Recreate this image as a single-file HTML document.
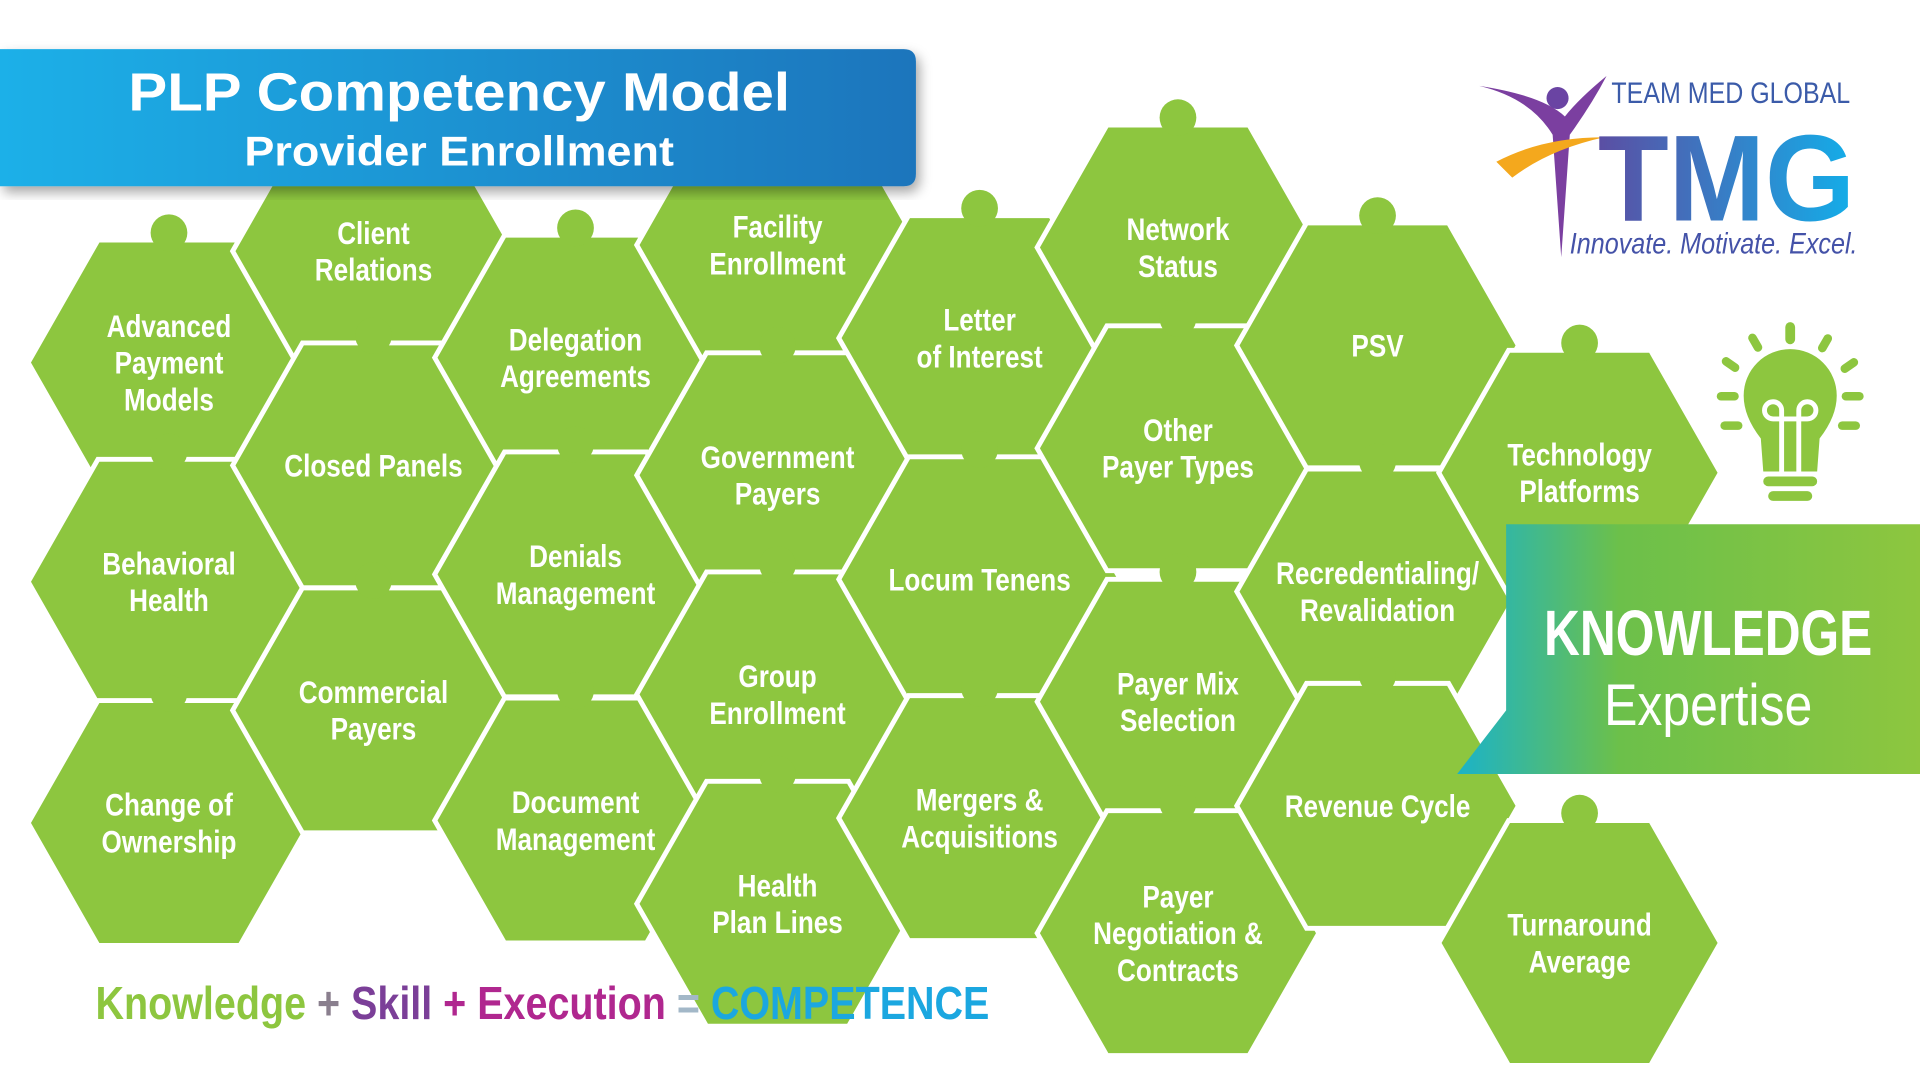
<!DOCTYPE html>
<html><head><meta charset="utf-8"><style>
html,body{margin:0;padding:0;background:#fff;width:1920px;height:1079px;overflow:hidden}
svg{display:block}
.l{font-family:"Liberation Sans",sans-serif;font-weight:bold;fill:#fff;font-size:26px;text-anchor:middle}
</style></head><body>
<svg width="1920" height="1079" viewBox="0 0 1568 881" xmlns="http://www.w3.org/2000/svg">
<defs>
<linearGradient id="bl" x1="0" x2="1"><stop offset="0" stop-color="#1ab0e8"/><stop offset="1" stop-color="#1b75bc"/></linearGradient>
<linearGradient id="kg" x1="0" x2="1"><stop offset="0" stop-color="#1bb3c8"/><stop offset="0.35" stop-color="#6cc04a"/><stop offset="1" stop-color="#8dc63f"/></linearGradient>
<linearGradient id="tm" x1="0" x2="1"><stop offset="0" stop-color="#5b4ea3"/><stop offset="1" stop-color="#13aee9"/></linearGradient>
<filter id="sh"><feDropShadow dx="3" dy="5" stdDeviation="5" flood-opacity="0.35"/></filter>
</defs>
<g id="hexes" fill="#8dc63f" stroke="#fff" stroke-width="4"></g>
<g id="knobs" fill="#8dc63f"></g>
<path d="M1230 428 H1568 V632 H1190 L1230 580 Z" fill="url(#kg)"/>
<g font-family="Liberation Sans,sans-serif" fill="#fff" text-anchor="middle">
<text transform="translate(1395,535) scale(0.78,1)" font-weight="bold" font-size="52">KNOWLEDGE</text>
<text transform="translate(1395,592) scale(0.85,1)" font-size="48">Expertise</text>
</g>
<path d="M0 40 H738 Q748 40 748 50 V142 Q748 152 738 152 H0 Z" fill="url(#bl)" filter="url(#sh)"/>
<text transform="translate(375,90) scale(1.08,1)" font-family="Liberation Sans,sans-serif" font-weight="bold" font-size="44" fill="#fff" text-anchor="middle">PLP Competency Model</text>
<text transform="translate(375,135) scale(1.08,1)" font-family="Liberation Sans,sans-serif" font-weight="bold" font-size="34" fill="#fff" text-anchor="middle">Provider Enrollment</text>
<g font-family="Liberation Sans,sans-serif">
<path d="M1208 70 Q1250 80 1268 110 L1275 210 L1282 110 Q1300 85 1312 62 Q1290 80 1278 95 Q1260 78 1208 70Z" fill="#7b3fa0"/>
<circle cx="1272" cy="80" r="9" fill="#6a44a3"/>
<path d="M1222 132 Q1260 112 1310 112 Q1265 122 1235 145 Z" fill="#f4a81d"/>
<text x="1316" y="84" font-size="24" fill="#3b5ba9" textLength="195" lengthAdjust="spacingAndGlyphs">TEAM MED GLOBAL</text>
<text x="1305" y="180" font-size="100" font-weight="bold" fill="url(#tm)" textLength="210" lengthAdjust="spacingAndGlyphs">TMG</text>
<text x="1282" y="207" font-size="24" font-style="italic" fill="#4452a8" textLength="235" lengthAdjust="spacingAndGlyphs">Innovate. Motivate. Excel.</text>
</g>
<g fill="#8dc63f">
<path d="M1462 285 A38 38 0 0 1 1500 323 Q1500 340 1486 358 L1484 385 H1440 L1438 358 Q1424 340 1424 323 A38 38 0 0 1 1462 285Z"/>
<rect x="1440" y="389" width="44" height="8" rx="4"/><rect x="1444" y="401" width="36" height="8" rx="4"/>
<rect x="1458" y="263" width="8" height="18" rx="4"/>
<rect x="1402" y="320" width="18" height="7" rx="3.5"/><rect x="1504" y="320" width="18" height="7" rx="3.5"/>
<rect x="1405" y="344" width="18" height="7" rx="3.5"/><rect x="1501" y="344" width="18" height="7" rx="3.5"/>
<rect x="1430" y="272" width="7" height="16" rx="3.5" transform="rotate(-30 1433 280)"/><rect x="1487" y="272" width="7" height="16" rx="3.5" transform="rotate(30 1490 280)"/>
<rect x="1410" y="290" width="7" height="16" rx="3.5" transform="rotate(-55 1413 298)"/><rect x="1507" y="290" width="7" height="16" rx="3.5" transform="rotate(55 1510 298)"/>
</g>
<path d="M1455 385 V335 A7 7 0 1 0 1448 342 H1476 A7 7 0 1 0 1469 335 V385" fill="none" stroke="#fff" stroke-width="4"/>
<g id="labels" class="l"></g>
<text x="78" y="832" font-family="Liberation Sans,sans-serif" font-weight="bold" font-size="38" textLength="730" lengthAdjust="spacingAndGlyphs"><tspan fill="#8dc63f">Knowledge</tspan><tspan fill="#8a7f8e"> + </tspan><tspan fill="#7b3f98">Skill</tspan><tspan fill="#b0278f"> + Execution</tspan><tspan fill="#a3b8c8"> = </tspan><tspan fill="#1ba7e0">COMPETENCE</tspan></text>
</svg>
<script>
var C=[[138,[296,475,672],[["Advanced","Payment","Models"],["Behavioral","Health"],["Change of","Ownership"]]],
[305,[205,380,580],[["Client","Relations"],["Closed Panels"],["Commercial","Payers"]]],
[470,[292,469,670],[["Delegation","Agreements"],["Denials","Management"],["Document","Management"]]],
[635,[200,388,567,738],[["Facility","Enrollment"],["Government","Payers"],["Group","Enrollment"],["Health","Plan Lines"]]],
[800,[276,473,668],[["Letter","of Interest"],["Locum Tenens"],["Mergers &","Acquisitions"]]],
[962,[202,366,573,762],[["Network","Status"],["Other","Payer Types"],["Payer Mix","Selection"],["Payer","Negotiation &","Contracts"]]],
[1125,[282,483,658],[["PSV"],["Recredentialing/","Revalidation"],["Revenue Cycle"]]],
[1290,[386,770],[["Technology","Platforms"],["Turnaround","Average"]]]];
var ns="http://www.w3.org/2000/svg",H=document.getElementById("hexes"),K=document.getElementById("knobs"),L=document.getElementById("labels");
C.forEach(function(c){var x=c[0];c[1].forEach(function(y,i){
var p=document.createElementNS(ns,"polygon");
p.setAttribute("points",[[x-115,y],[x-58,y-100],[x+58,y-100],[x+115,y],[x+58,y+100],[x-58,y+100]].map(function(q){return q.join(",")}).join(" "));
H.appendChild(p);
var k=document.createElementNS(ns,"circle");k.setAttribute("cx",x);k.setAttribute("cy",y-106);k.setAttribute("r",15);K.appendChild(k);
var ln=c[2][i],n=ln.length;
ln.forEach(function(t,j){var e=document.createElementNS(ns,"text");e.setAttribute("transform","translate("+x+","+(y+9+(j-(n-1)/2)*30)+") scale(0.82,1)");e.textContent=t;L.appendChild(e);});
});});
</script>
</body></html>
